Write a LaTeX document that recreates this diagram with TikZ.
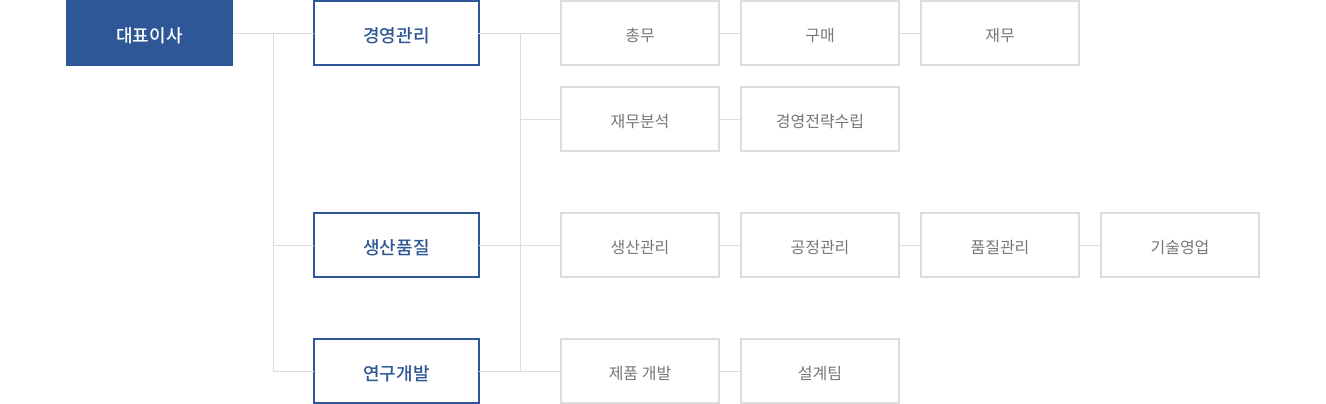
\documentclass[tikz,border=0pt]{standalone}
\usepackage{fontspec}
\newfontfamily\kr{Noto Sans CJK KR}
\newfontfamily\krb{Noto Sans CJK KR Medium}
\definecolor{navy}{HTML}{2D5796}
\definecolor{gline}{HTML}{DDDDDD}
\definecolor{gtext}{HTML}{777777}
\begin{document}
\begin{tikzpicture}[x=1pt,y=-1pt,
  ceo/.style={fill=navy,text=white,minimum width=167pt,minimum height=66pt,inner sep=0pt,outer sep=0pt,text height=21pt,text depth=2pt,font=\krb\fontsize{18}{20}\selectfont},
  dept/.style={draw=navy,line width=2pt,fill=white,text=navy,minimum width=165pt,minimum height=64pt,inner sep=0pt,outer sep=0pt,text height=21pt,text depth=2pt,font=\krb\fontsize{18}{20}\selectfont},
  team/.style={draw=gline,line width=2pt,fill=white,text=gtext,minimum width=158pt,minimum height=64pt,inner sep=0pt,outer sep=0pt,text height=19.5pt,text depth=2pt,font=\kr\fontsize{16}{18}\selectfont},
  conn/.style={draw=gline,line width=1pt}]
\useasboundingbox (0,0) rectangle (1326,404);
\coordinate (v1t) at (273.5,34);
\coordinate (v2t) at (520.5,34);
\node[ceo] (ceo) at (149.5,33) {대표이사};
\node[dept] (d1) at (396.5,33) {경영관리};
\node[dept] (d2) at (396.5,245) {생산품질};
\node[dept] (d3) at (396.5,371) {연구개발};
\node[team] (t11) at (640,33) {총무};
\node[team] (t12) at (820,33) {구매};
\node[team] (t13) at (1000,33) {재무};
\node[team] (t21) at (640,119) {재무분석};
\node[team] (t22) at (820,119) {경영전략수립};
\node[team] (t31) at (640,245) {생산관리};
\node[team] (t32) at (820,245) {공정관리};
\node[team] (t33) at (1000,245) {품질관리};
\node[team] (t34) at (1180,245) {기술영업};
\node[team] (t41) at (640,371) {제품 개발};
\node[team] (t42) at (820,371) {설계팀};
\draw[conn] ([yshift=-1pt]ceo.east) -- ([yshift=-1pt]d1.west);
\draw[conn] (v1t) |- (d2.west);
\draw[conn] (v1t) |- (d3.west);
\draw[conn] ([shift={(-1pt,-1pt)}]d1.east) -- ([shift={(1pt,-1pt)}]t11.west);
\draw[conn] (v2t) |- ([xshift=1pt]t21.west);
\draw[conn] (v2t) |- ([xshift=1pt]t31.west);
\draw[conn] (v2t) |- ([xshift=1pt]t41.west);
\draw[conn] (d2.east) -- (t31.west);
\draw[conn] (d3.east) -- (t41.west);
\draw[conn] ([yshift=-1pt]t11.east) -- ([yshift=-1pt]t12.west);
\draw[conn] ([yshift=-1pt]t12.east) -- ([yshift=-1pt]t13.west);
\draw[conn] (t21) -- (t22);
\draw[conn] (t31) -- (t32);
\draw[conn] (t32) -- (t33);
\draw[conn] (t33) -- (t34);
\draw[conn] (t41) -- (t42);
\end{tikzpicture}
\end{document}
